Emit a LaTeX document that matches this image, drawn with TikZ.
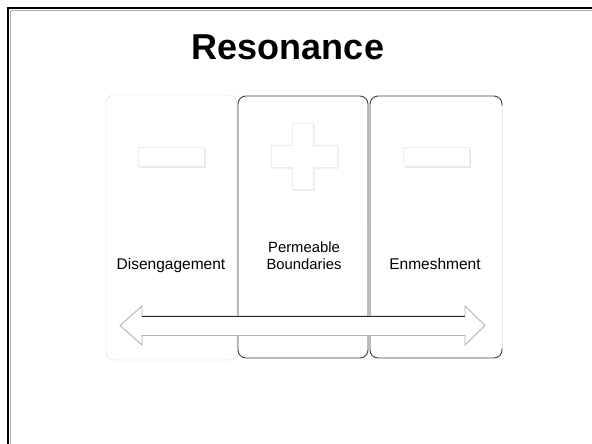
\documentclass[tikz,border=0pt]{standalone}
\usepackage{fontspec}
\setmainfont{Liberation Sans}
\begin{document}
\begin{tikzpicture}[x=1pt,y=-1pt,
  panel/.style={rectangle, rounded corners=8pt, inner sep=0pt, outer sep=0pt, fill=white},
  sign/.style={fill=white, draw=gray!15, line width=0.6pt},
  signshadow/.style={fill=gray!18},
  label/.style={font=\fontsize{15.5}{17}\selectfont, inner sep=0pt, anchor=base},
  arrowbody/.style={fill=white, draw=gray!60, line width=0.9pt, line join=miter},
]
\useasboundingbox (0,0) rectangle (592,444);
\fill[white] (0,0) rectangle (592,444);
% frame
\draw[gray!60, line width=1pt] (10.3,444) -- (10.3,10.3) -- (592,10.3);
\draw[black, line width=2.5pt] (8.2,444) -- (8.2,8.2) -- (592,8.2);
% title
\node[font=\bfseries\fontsize{36}{40}\selectfont, inner sep=0pt, anchor=base] (title) at (288,59.5) {Resonance};
% panels
\node[panel, draw=gray!15, line width=0.8pt, minimum width=131pt, minimum height=265pt] (p1) at (171.5,227.5) {};
\node[panel, draw=black!75, line width=0.9pt, minimum width=130pt, minimum height=262pt] (p2) at (303,227) {};
\node[panel, draw=black!75, line width=0.9pt, minimum width=132pt, minimum height=262pt] (p3) at (436,227) {};
% lighter side edges
\draw[gray!55, line width=1.1pt] (368,106) -- (368,226);
\draw[white, line width=1.4pt] (502,106) -- (502,348);
\draw[gray!15, line width=0.8pt] (502,106) -- (502,348);
% minus / plus signs
\fill[signshadow] (139.5,148.5) rectangle (205.5,167.5);
\draw[sign] (138,147) rectangle (204,166) node[pos=0.5, inner sep=0pt] (m1) {};
\fill[signshadow] (404.5,148.5) rectangle (470.5,167.5);
\draw[sign] (403,147) rectangle (469,166) node[pos=0.5, inner sep=0pt] (m3) {};
\fill[signshadow, shift={(1.5,1.5)}] (292,123) -- (313,123) -- (313,145) -- (337,145) -- (337,167) -- (313,167) -- (313,189) -- (292,189) -- (292,167) -- (271,167) -- (271,145) -- (292,145) -- cycle;
\draw[sign] (292,123) -- (313,123) -- (313,145) -- (337,145) -- (337,167) -- (313,167) -- (313,189) -- (292,189) -- (292,167) -- (271,167) -- (271,145) -- (292,145) -- cycle;
% labels
\node[label] (l1) at (171,269) {Disengagement};
\node[font=\fontsize{14.8}{17}\selectfont, inner sep=0pt, align=center] (l2) at (304,255.5) {Permeable\\Boundaries};
\node[label] (l3) at (435,269) {Enmeshment};
% double arrow
\draw[arrowbody] (120,325.5) -- (142,306) -- (142,316) -- (465,316) -- (465,306) -- (485,325.5) -- (465,345) -- (465,335.5) -- (142,335.5) -- (142,345) -- cycle;
\draw[black!85, line width=0.9pt] (142,316) -- (465,316);
\end{tikzpicture}
\end{document}
